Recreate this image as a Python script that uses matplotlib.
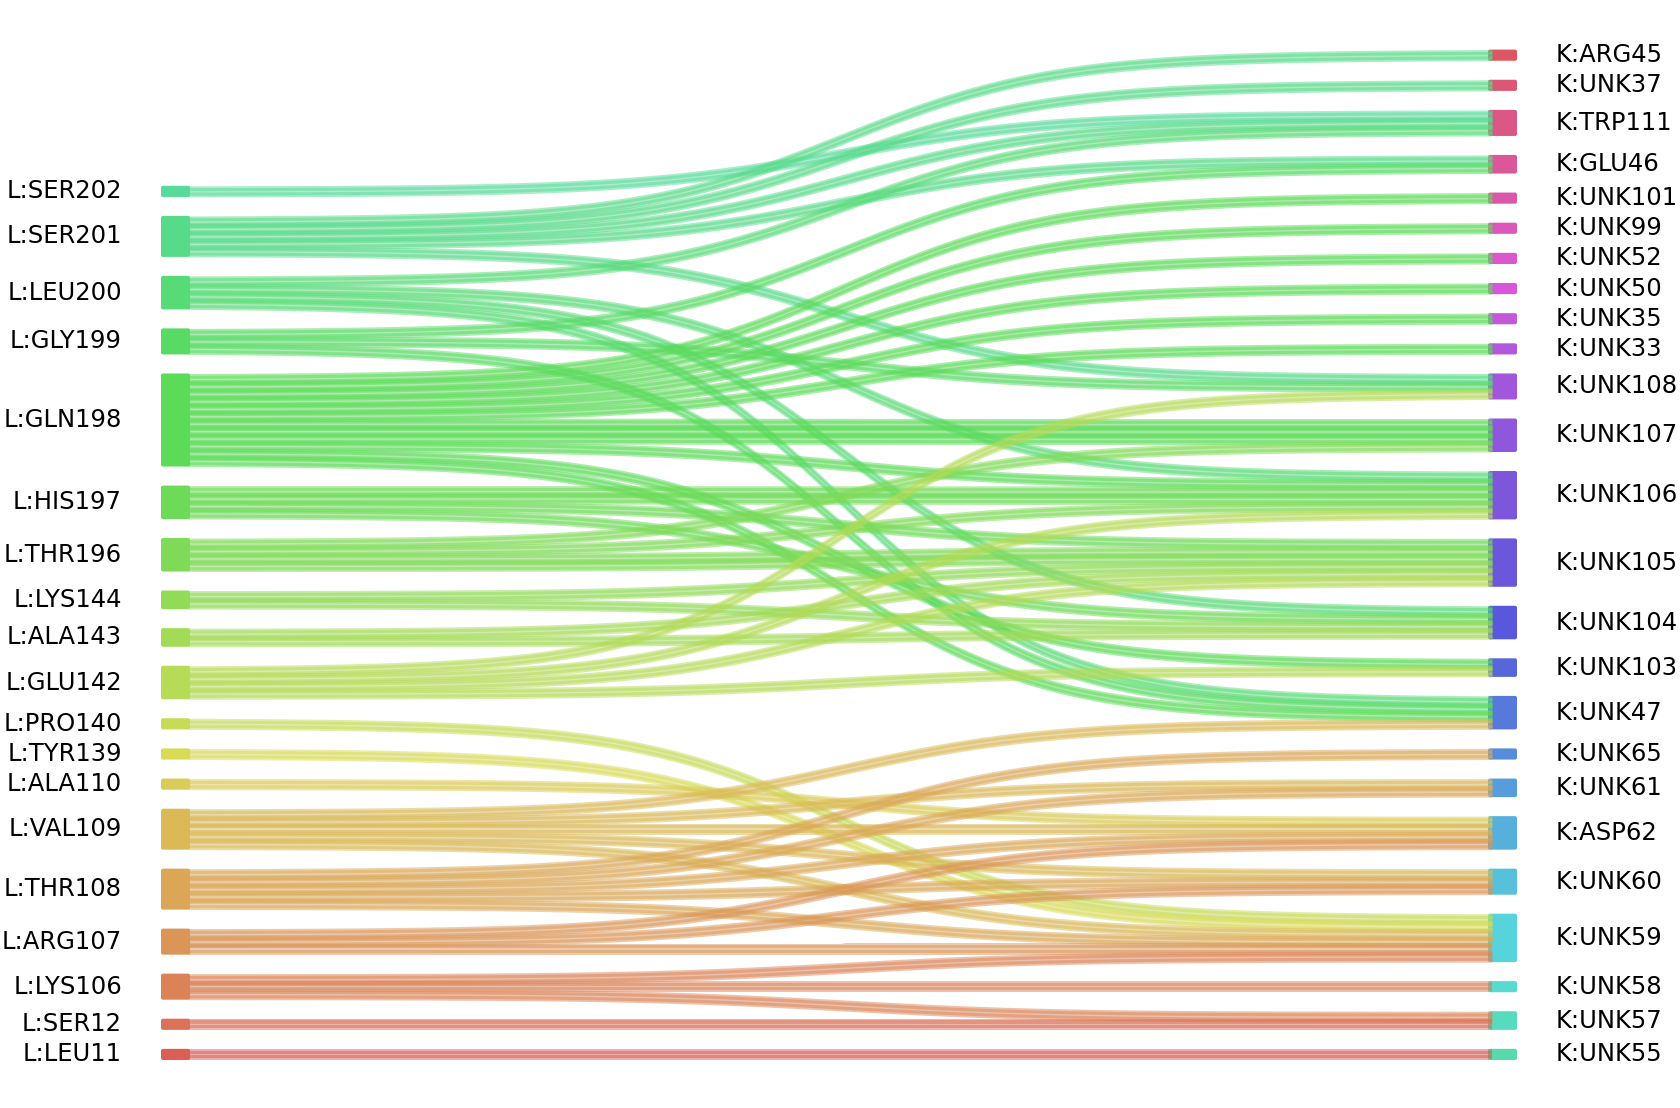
import numpy as np
import matplotlib
matplotlib.use("Agg")
import matplotlib.pyplot as plt
import seaborn as sns
from matplotlib.patches import FancyBboxPatch

# residues on each side of the interface, top to bottom
left_nodes = ["L:SER202", "L:SER201", "L:LEU200", "L:GLY199", "L:GLN198",
              "L:HIS197", "L:THR196", "L:LYS144", "L:ALA143", "L:GLU142",
              "L:PRO140", "L:TYR139", "L:ALA110", "L:VAL109", "L:THR108",
              "L:ARG107", "L:LYS106", "L:SER12", "L:LEU11"]
right_nodes = ["K:ARG45", "K:UNK37", "K:TRP111", "K:GLU46", "K:UNK101",
               "K:UNK99", "K:UNK52", "K:UNK50", "K:UNK35", "K:UNK33",
               "K:UNK108", "K:UNK107", "K:UNK106", "K:UNK105", "K:UNK104",
               "K:UNK103", "K:UNK47", "K:UNK65", "K:UNK61", "K:ASP62",
               "K:UNK60", "K:UNK59", "K:UNK58", "K:UNK57", "K:UNK55"]

# one entry per contact (one strand each)
contacts = {
    "L:SER202": ["K:TRP111"],
    "L:SER201": ["K:ARG45", "K:UNK37", "K:TRP111", "K:GLU46", "K:UNK108"],
    "L:LEU200": ["K:TRP111", "K:UNK106", "K:UNK104", "K:UNK47"],
    "L:GLY199": ["K:GLU46", "K:UNK108", "K:UNK47"],
    "L:GLN198": ["K:UNK101", "K:UNK99", "K:UNK52", "K:UNK50", "K:UNK35",
                 "K:UNK33", "K:UNK107", "K:UNK107", "K:UNK107", "K:UNK106",
                 "K:UNK103", "K:UNK47"],
    "L:HIS197": ["K:UNK106", "K:UNK106", "K:UNK105", "K:UNK104"],
    "L:THR196": ["K:UNK107", "K:UNK106", "K:UNK105", "K:UNK105"],
    "L:LYS144": ["K:UNK105", "K:UNK104"],
    "L:ALA143": ["K:UNK105", "K:UNK104"],
    "L:GLU142": ["K:UNK108", "K:UNK106", "K:UNK105", "K:UNK103"],
    "L:PRO140": ["K:UNK59"],
    "L:TYR139": ["K:UNK59"],
    "L:ALA110": ["K:ASP62"],
    "L:VAL109": ["K:UNK47", "K:UNK61", "K:ASP62", "K:UNK60", "K:UNK59"],
    "L:THR108": ["K:UNK65", "K:UNK61", "K:ASP62", "K:UNK60", "K:UNK59"],
    "L:ARG107": ["K:ASP62", "K:UNK60", "K:UNK59"],
    "L:LYS106": ["K:UNK59", "K:UNK58", "K:UNK57"],
    "L:SER12": ["K:UNK57"],
    "L:LEU11": ["K:UNK55"],
}

W, H = 1680, 1108
unit, pad, gap = 7.45, 3.7, 19.0
bottom = 1060
left_x, right_x, node_w = 161, 1488, 29

# colours: one hls wheel running up the left column and on up the right one
order = left_nodes[::-1] + right_nodes[::-1]
pal = sns.color_palette("hls", len(order))
colors = dict(zip(order, pal))

links = [(s, t) for s in left_nodes for t in contacts[s]]
counts = {n: 0 for n in left_nodes + right_nodes}
for s, t in links:
    counts[s] += 1
    counts[t] += 1


def stack(names):
    heights = [pad + unit * counts[n] for n in names]
    y = bottom - (sum(heights) + gap * (len(names) - 1))
    tops = {}
    for n, h in zip(names, heights):
        tops[n] = y
        y += h + gap
    return tops, dict(zip(names, heights))


ltop, lh = stack(left_nodes)
rtop, rh = stack(right_nodes)

# strand slots: at the source sorted by target, at the target sorted by source
ri = {n: i for i, n in enumerate(right_nodes)}
li = {n: i for i, n in enumerate(left_nodes)}
y_src, y_tgt = {}, {}
for s in left_nodes:
    idx = sorted([k for k, l in enumerate(links) if l[0] == s], key=lambda k: ri[links[k][1]])
    for j, k in enumerate(idx):
        y_src[k] = ltop[s] + pad / 2 + unit * (j + 0.5)
for t in right_nodes:
    idx = sorted([k for k, l in enumerate(links) if l[1] == t], key=lambda k: li[links[k][0]])
    for j, k in enumerate(idx):
        y_tgt[k] = rtop[t] + pad / 2 + unit * (j + 0.5)

fig = plt.figure(figsize=(W / 100, H / 100), dpi=100)
ax = fig.add_axes([0, 0, 1, 1])
ax.set_xlim(0, W)
ax.set_ylim(H, 0)
ax.axis("off")

# logistic s-curve between the two columns
x0, x1 = left_x + node_w - 2, right_x + 4
xs = np.linspace(x0, x1, 400)
xm, sc = (x0 + x1) / 2 + 4, 105.0
lg = 1 / (1 + np.exp(-(xs - xm) / sc))
fr = (lg - lg[0]) / (lg[-1] - lg[0])

half = (unit + pad) / 2
for k, (s, t) in enumerate(links):
    c = colors[s]
    ys = y_src[k] + (y_tgt[k] - y_src[k]) * fr
    ax.fill_between(xs, ys - half, ys + half, color=c, alpha=0.5, lw=0, zorder=2)
    ax.fill_between(xs, ys - half + 1.8, ys - 0.7, color=c, alpha=0.5, lw=0, zorder=2)
    ax.fill_between(xs, ys + 0.7, ys + half - 1.8, color=c, alpha=0.5, lw=0, zorder=2)

for n in left_nodes:
    ax.add_patch(FancyBboxPatch((left_x, ltop[n]), node_w, lh[n],
                                boxstyle="round,pad=0,rounding_size=2",
                                fc=colors[n], ec="none", zorder=3))
    ax.text(122, ltop[n] + lh[n] / 2, n, ha="right", va="center", fontsize=17.5)
for n in right_nodes:
    ax.add_patch(FancyBboxPatch((right_x, rtop[n]), node_w, rh[n],
                                boxstyle="round,pad=0,rounding_size=2",
                                fc=colors[n], ec="none", zorder=1))
    ax.text(1556, rtop[n] + rh[n] / 2, n, ha="left", va="center", fontsize=17.5)

fig.savefig("out.png", dpi=100)
